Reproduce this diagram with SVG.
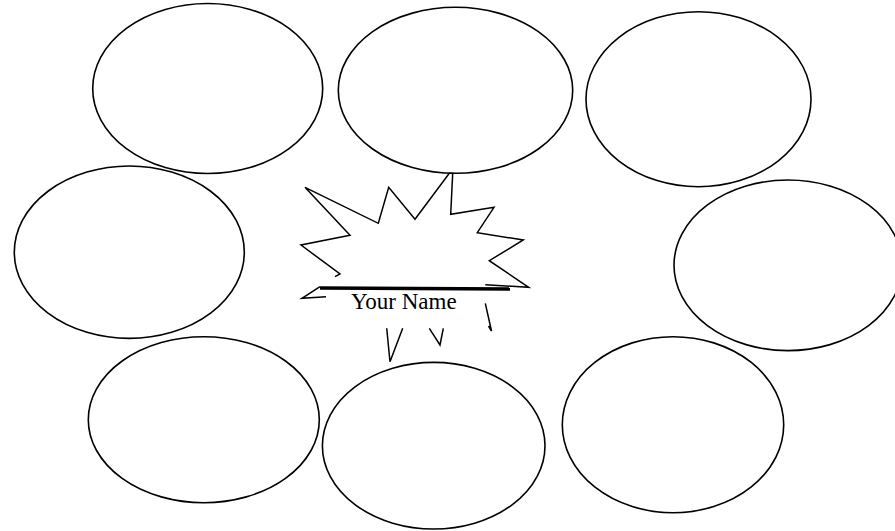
<svg xmlns="http://www.w3.org/2000/svg" width="895" height="531" viewBox="0 0 895 531">
<style>
.bubble{fill:#ffffff;stroke:#000000;stroke-width:1.6}
.burst{fill:none;stroke:#000000;stroke-width:1.5;stroke-linejoin:miter}
.bar{stroke:#000000;stroke-width:3.5}
.label{font-family:"Liberation Serif","Times New Roman",serif;font-size:23px;fill:#000000}
</style>
<rect width="895" height="531" fill="#ffffff"/>
<g id="bubble-top-left"><ellipse class="bubble" cx="207.7" cy="88.5" rx="115" ry="85"/></g>
<g id="bubble-top-middle"><ellipse class="bubble" cx="455.5" cy="90.3" rx="117.2" ry="83"/></g>
<g id="bubble-top-right"><ellipse class="bubble" cx="698.5" cy="99.2" rx="112.5" ry="87.5"/></g>
<g id="bubble-left"><ellipse class="bubble" cx="129.3" cy="252.2" rx="115" ry="86.2"/></g>
<g id="bubble-right"><ellipse class="bubble" cx="788" cy="265.3" rx="114" ry="85.3"/></g>
<g id="bubble-bottom-left"><ellipse class="bubble" cx="203.8" cy="419.7" rx="115.5" ry="83"/></g>
<g id="bubble-bottom-middle"><ellipse class="bubble" cx="433.7" cy="445.7" rx="111.3" ry="83.3"/></g>
<g id="bubble-bottom-right"><ellipse class="bubble" cx="673" cy="424.7" rx="110.7" ry="88"/></g>
<g id="center-burst">
<polyline class="burst" points="335,276.7 340,274 301,245 350,235.3 305,187.3 378.3,223.3 388.7,187.3 415,219.3 449.3,173.3 452.7,173.3 450.7,214.3 494,207.3 477.3,232.7 523.3,240 489.3,260.7 528.7,287.3 485.3,284.7"/>
<polyline class="burst" points="320,286.7 302,298.3 326,296.7"/>
<polyline class="burst" points="386.7,328.3 390,361.7 402.7,328.3"/>
<polyline class="burst" points="429.3,328.3 440,345 443.3,328.3"/>
<polyline class="burst" points="485.3,303.3 491.5,331 488.5,326"/>
<line class="bar" x1="320" y1="288" x2="510" y2="289"/>
<text class="label" x="403.8" y="309.3" text-anchor="middle">Your Name</text>
</g>
<g id="connectors"/>
</svg>
